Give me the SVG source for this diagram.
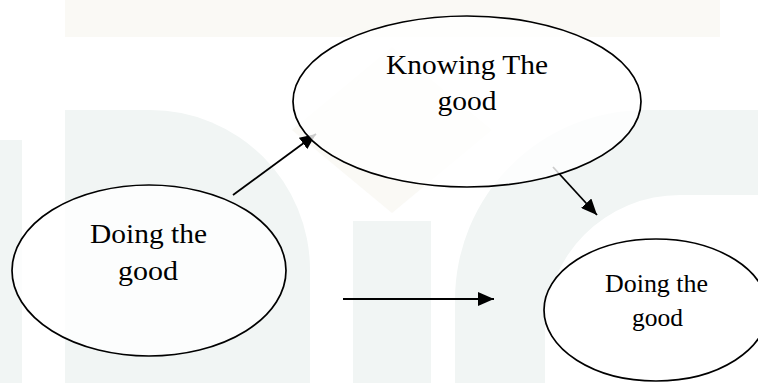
<svg xmlns="http://www.w3.org/2000/svg" width="758" height="383" viewBox="0 0 758 383">
<style>
.node ellipse{fill:#ffffff;fill-opacity:0.8;stroke:#000;stroke-width:1.7}
.lbl{font-family:"Liberation Serif","Times New Roman",serif;fill:#000;text-anchor:middle}
.big{font-size:28px}
.small{font-size:25px}
.edge{stroke:#000;stroke-width:1.8;fill:none;marker-end:url(#ah)}
.wm-g{fill:#f1f5f4}
.wm-b{fill:#faf9f5}
</style>
<defs>
<marker id="ah" markerUnits="userSpaceOnUse" markerWidth="17" markerHeight="14" refX="16" refY="7" orient="auto">
<path d="M0,0 L16,7 L0,14 Z" fill="#000"/>
</marker>
</defs>
<rect width="758" height="383" fill="#ffffff"/>
<g id="watermark">
<rect class="wm-b" x="65" y="0" width="655" height="37"/>
<polygon class="wm-b" points="392,47 492,130 392,213 292,130"/>
<rect class="wm-g" x="0" y="140" width="22" height="243"/>
<path class="wm-g" d="M65,110 H150 A160,160 0 0 1 310,270 V383 H65 Z"/>
<rect class="wm-g" x="353" y="221" width="78" height="162"/>
<path class="wm-g" d="M455,383 V300 A190,190 0 0 1 645,110 H758 V383 H545 V330 A135,135 0 0 1 680,195 H758 V383 Z" fill-rule="evenodd"/>
</g>
<g id="connectors">
<line class="edge" x1="233" y1="195" x2="316" y2="134"/>
<line class="edge" x1="553" y1="167" x2="597" y2="215"/>
<line class="edge" x1="343" y1="299" x2="494" y2="299"/>
</g>
<g id="node-knowing" class="node">
<ellipse cx="467" cy="101.5" rx="174" ry="85.5"/>
<text class="lbl big" x="467" y="74" textLength="162" lengthAdjust="spacingAndGlyphs">Knowing The</text>
<text class="lbl big" x="467" y="110" textLength="59" lengthAdjust="spacingAndGlyphs">good</text>
</g>
<g id="node-doing-left" class="node">
<ellipse cx="149" cy="270.5" rx="137" ry="85.5"/>
<text class="lbl big" x="148.5" y="243" textLength="117" lengthAdjust="spacingAndGlyphs">Doing the</text>
<text class="lbl big" x="148" y="280" textLength="60" lengthAdjust="spacingAndGlyphs">good</text>
</g>
<g id="node-doing-right" class="node">
<ellipse cx="656" cy="310" rx="112" ry="71"/>
<text class="lbl small" x="656.5" y="292" textLength="103" lengthAdjust="spacingAndGlyphs">Doing the</text>
<text class="lbl small" x="657.5" y="326" textLength="51" lengthAdjust="spacingAndGlyphs">good</text>
</g>
</svg>
